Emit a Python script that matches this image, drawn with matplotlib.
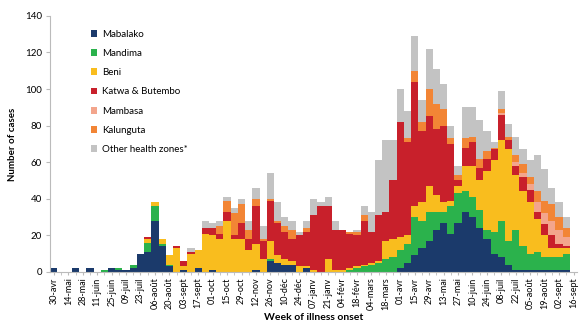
import matplotlib
matplotlib.use('Agg')
import matplotlib.pyplot as plt
import numpy as np

# weekly case counts per health zone, week of 30-avr-2018 up to 16-sept-2019
mabalako = [2, 0, 0, 2, 0, 2, 0, 0, 2, 1, 1, 2, 10, 11, 28, 14, 3, 0, 1, 0,
            2, 0, 1, 0, 0, 0, 0, 0, 1, 0, 6, 5, 4, 4, 0, 2, 0, 0, 0, 0,
            0, 0, 0, 0, 0, 0, 0, 0, 2, 5, 9, 13, 17, 23, 27, 21, 27, 33, 30, 24,
            18, 10, 8, 4, 1, 1, 1, 1, 1, 1, 1, 1, 0]
mandima = [0, 0, 0, 0, 0, 0, 0, 1, 0, 1, 0, 2, 0, 5, 8, 1, 1, 0, 0, 0,
           0, 0, 0, 0, 0, 0, 0, 0, 0, 0, 1, 0, 0, 0, 0, 0, 0, 0, 0, 0,
           0, 1, 2, 3, 4, 5, 7, 8, 10, 10, 21, 15, 16, 10, 6, 15, 16, 11, 11, 10,
           5, 12, 20, 13, 22, 13, 9, 10, 7, 7, 7, 9, 0]
beni = [0, 0, 0, 0, 0, 0, 0, 0, 0, 0, 0, 0, 0, 2, 2, 3, 5, 13, 2, 10,
        10, 21, 19, 18, 28, 18, 18, 12, 14, 7, 10, 4, 3, 2, 3, 1, 1, 0, 7, 1,
        1, 1, 1, 1, 1, 1, 10, 10, 7, 5, 6, 10, 14, 9, 5, 3, 4, 14, 17, 16,
        32, 39, 44, 50, 30, 30, 28, 18, 12, 5, 5, 3, 0]
katwa_butembo = [0, 0, 0, 0, 0, 0, 0, 0, 0, 0, 0, 0, 0, 1, 0, 0, 0, 1, 3, 1,
                 0, 3, 4, 3, 5, 2, 9, 6, 21, 10, 22, 18, 15, 12, 17, 19, 30, 36, 29, 22,
                 22, 19, 17, 24, 17, 25, 16, 32, 63, 51, 68, 39, 38, 36, 42, 31, 3, 10, 13, 7,
                 7, 6, 14, 5, 5, 8, 7, 4, 6, 7, 2, 1, 0]
mambasa = [0] * 62 + [1, 0, 2, 2, 3, 5, 6, 8, 8, 5, 0]
kalunguta = [0, 0, 0, 0, 0, 0, 0, 0, 0, 0, 0, 0, 0, 0, 0, 0, 0, 0, 0, 0,
             0, 0, 0, 4, 6, 12, 10, 5, 4, 1, 1, 1, 3, 5, 0, 2, 0, 0, 0, 0,
             0, 1, 2, 3, 0, 0, 0, 0, 0, 2, 6, 5, 15, 14, 9, 3, 3, 5, 3, 5,
             4, 1, 2, 2, 4, 5, 4, 6, 7, 9, 7, 5, 0]
other_zones = [0, 0, 0, 0, 0, 0, 0, 0, 0, 0, 0, 0, 0, 0, 0, 0, 0, 0, 0, 2,
               0, 4, 3, 3, 2, 3, 3, 5, 6, 7, 14, 10, 5, 5, 2, 4, 9, 2, 5, 5,
               0, 0, 1, 5, 11, 30, 39, 22, 18, 15, 19, 12, 22, 19, 14, 7, 5, 17, 16, 21,
               11, 3, 10, 7, 10, 8, 9, 20, 17, 9, 8, 6, 0]

week_labels = ['30-avr', '14-mai', '28-mai', '11-juin', '25-juin', '09-juil', '23-juil',
               '06-août', '20-août', '03-sept', '17-sept', '01-oct', '15-oct', '29-oct',
               '12-nov', '26-nov', '10-déc', '24-déc', '07-janv', '21-janv', '04-févr',
               '18-févr', '04-mars', '18-mars', '01-avr', '15-avr', '29-avr', '13-mai',
               '27-mai', '10-juin', '24-juin', '08-juil', '22-juil', '05-août', '19-août',
               '02-sept', '16-sept']

series = [
    ('Mabalako', mabalako, '#1b3a6b'),
    ('Mandima', mandima, '#2bb24c'),
    ('Beni', beni, '#f9bd1e'),
    ('Katwa & Butembo', katwa_butembo, '#c8202b'),
    ('Mambasa', mambasa, '#f3a58c'),
    ('Kalunguta', kalunguta, '#f28535'),
    ('Other health zones*', other_zones, '#c3c3c3'),
]


def plot_weekly_cases():
    plt.rcParams['font.family'] = ['Lato', 'DejaVu Sans']
    fig = plt.figure(figsize=(5.88, 3.30), dpi=100)
    ax = fig.add_axes([0.0855, 0.176, 0.896, 0.776])

    x = np.arange(len(mabalako))
    bottom = np.zeros(len(x))
    for name, values, color in series:
        ax.bar(x, values, width=1.0, bottom=bottom, color=color, label=name,
               linewidth=0)
        bottom += np.array(values)

    ax.set_xlim(-0.5, len(x) - 0.5)
    ax.set_ylim(0, 140)
    ax.set_yticks(range(0, 141, 20))
    ax.set_xticks(x[::2])
    ax.set_xticklabels(week_labels, rotation=90, fontsize=6.5)
    ax.set_xticks(x, minor=True)
    ax.tick_params(axis='y', labelsize=7, length=3, color='#bbbbbb', pad=3)
    ax.tick_params(axis='x', which='both', length=2, color='#bbbbbb', pad=2)

    for side in ['top', 'right']:
        ax.spines[side].set_visible(False)
    for side in ['left', 'bottom']:
        ax.spines[side].set_color('#bbbbbb')
        ax.spines[side].set_linewidth(0.8)

    ax.set_ylabel('Number of cases', fontsize=7, fontweight='bold', labelpad=6)
    ax.set_xlabel('Week of illness onset', fontsize=7.5, fontweight='bold', labelpad=2)

    ax.legend(loc='upper left', bbox_to_anchor=(0.06, 0.98), frameon=False,
              fontsize=7, labelspacing=1.05, handlelength=0.7, handleheight=0.7,
              handletextpad=0.5)

    fig.savefig('out.png', dpi=100)


if __name__ == "__main__":
    plot_weekly_cases()
